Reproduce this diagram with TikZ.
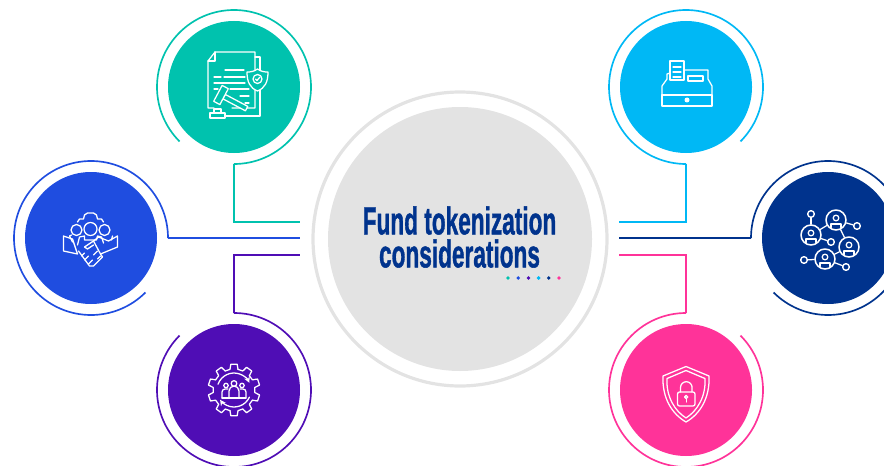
\documentclass[tikz,border=0pt]{standalone}
\usepackage{fontspec}
\setmainfont{Liberation Sans}
\newfontfamily\titlefont[FakeBold=1.4]{Liberation Sans Bold}
\definecolor{legalcol}{HTML}{00C2AE}
\definecolor{partnercol}{HTML}{1F4DE0}
\definecolor{opscol}{HTML}{4F0DB5}
\definecolor{cashcol}{HTML}{00B8F5}
\definecolor{netcol}{HTML}{00338D}
\definecolor{securecol}{HTML}{FF3399}
\definecolor{hubgrey}{HTML}{E3E3E3}
\tikzset{
	hub/.style={circle,inner sep=0pt,minimum size=99pt},
	ring/.style={line width=1.25pt},
	wire/.style={line width=1.35pt},
	glyph/.style={draw=white,line width=0.95pt,line join=round,line cap=round},
	peer/.style={circle,draw=white,line width=1.15pt,inner sep=0pt,minimum size=15pt},
	tip/.style={circle,draw=white,line width=1.05pt,inner sep=0pt,minimum size=5pt}
}
\begin{document}
\begin{tikzpicture}[x=0.75pt,y=0.75pt]
	\useasboundingbox (0,0) rectangle (884,465);
	
	% middle
	\node[circle,draw=hubgrey,line width=2.4pt,inner sep=0pt,minimum size=220.5pt] (outer) at (460,226) {};
	\node[hub,fill=hubgrey,minimum size=198pt] (fund) at (460,226) {};
	\node[font=\titlefont\fontsize{29}{24.75}\selectfont,text=netcol,align=center,xscale=0.585] (title) at (459.5,228) {Fund tokenization\\considerations};
	\foreach \dotcol [count=\i from 0] in {legalcol,partnercol,opscol,cashcol,netcol,securecol}
		\fill[\dotcol] (508+10.2*\i,187) circle (1.9);
	
	% hubs
	\node[hub,fill=legalcol] (legal) at (234,378) {};
	\node[hub,fill=partnercol] (partner) at (91,227) {};
	\node[hub,fill=opscol] (ops) at (234,75) {};
	\node[hub,fill=cashcol] (cash) at (686,378) {};
	\node[hub,fill=netcol] (net) at (828,227) {};
	\node[hub,fill=securecol] (secure) at (686,75) {};
	
	% ends of the wires
	\coordinate (legaltail) at (234,301);
	\coordinate (legalend) at (300,243);
	\coordinate (partnertail) at (168,227);
	\coordinate (partnerend) at (300,227);
	\coordinate (opstail) at (234,152);
	\coordinate (opsend) at (300,210);
	\coordinate (cashtail) at (686,301);
	\coordinate (cashend) at (619,243);
	\coordinate (nettail) at (751,227);
	\coordinate (netend) at (619,227);
	\coordinate (securetail) at (686,152);
	\coordinate (secureend) at (619,210);
	
	% rings
	\draw[ring,legalcol] (legaltail) arc[start angle=-90,end angle=225,radius=77];
	\draw[ring,partnercol] (partnertail) arc[start angle=0,end angle=315,radius=77];
	\draw[ring,opscol] (opstail) arc[start angle=90,end angle=-225,radius=77];
	\draw[ring,cashcol] (cashtail) arc[start angle=-90,end angle=-405,radius=77];
	\draw[ring,netcol] (nettail) arc[start angle=180,end angle=-135,radius=77];
	\draw[ring,securecol] (securetail) arc[start angle=90,end angle=405,radius=77];
	
	% wires
	\draw[wire,legalcol] (legaltail) |- (legalend);
	\draw[wire,partnercol] (partnertail) -- (partnerend);
	\draw[wire,opscol] (opstail) |- (opsend);
	\draw[wire,cashcol] (cashtail) |- (cashend);
	\draw[wire,netcol] (nettail) -- (netend);
	\draw[wire,securecol] (securetail) |- (secureend);
	
	% document, shield and gavel
	\begin{scope}[shift={(234,378)},glyph]
		\draw (-2,-21) -- (21,-21) -- (21,35) -- (-19,35) -- (-26,26) -- (-26,-21) -- (-20,-21);
		\draw (-26,26) -- (-19,26) -- (-19,35);
		\draw (21,30) -- (26,30) -- (26,-29) -- (-9,-29);
		\draw (-9,17) -- (10,17);
		\draw (-20,10) -- (-13,10) (-10,10) -- (11,10);
		\draw (-20,4) -- (11,4);
		\draw (-20,-2) -- (-16,-2) (-4,-2) -- (15,-2);
		\draw (6,-9) -- (15,-9);
		\draw (11,-16) -- (15,-16);
		\draw[fill=legalcol] (23.5,18) .. controls (27,15.5) and (30,15) .. (34,15) .. controls (34,5) and (31,-1) .. (23.5,-4) .. controls (16,-1) and (13,5) .. (13,15) .. controls (17,15) and (20,15.5) .. (23.5,18) -- cycle;
		\draw (23.5,8) circle (4.5);
		\draw (21.5,8) -- (23,6.5) -- (25.8,9.8);
		\begin{scope}[shift={(-13,-8)},rotate=-28]
			\draw[fill=legalcol] (3.5,-2.5) rectangle (29,2.5);
			\draw[fill=legalcol] (-3.5,-9) rectangle (3.5,9);
		\end{scope}
		\draw[fill=legalcol] (-20,-22) -- (-13,-22) -- (-13,-26) -- (-20,-26) -- cycle;
		\draw[fill=legalcol] (-24,-26) rectangle (-9,-31);
	\end{scope}
	
	% people and handshake
	\begin{scope}[shift={(90.5,226)},glyph]
		\draw (-13,17) -- (-11,20) -- (-7,20) -- (-6,24) -- (-3,26) -- (3,26) -- (6,24) -- (7,20) -- (11,20) -- (13,17);
		\draw (-14,9) circle (5.5);
		\draw (14,9) circle (5.5);
		\draw[fill=partnercol] (0,10) circle (6.5);
		\draw (-18,-3) -- (-21,3) -- (-19,4);
		\draw (21,-1) -- (22,3);
		\draw[fill=partnercol] (-13,-6) -- (-11,2) -- (-6,3) -- (-6,-1) -- (6,-1) -- (7,3) -- (11,2) -- (13,-4);
		\draw (-27,3) -- (-18,0) -- (-13,-15) -- (-27,-12) -- cycle;
		\draw (27,3) -- (27,-8) -- (10,-15) -- (3,-2) -- (8,2) -- (18,-2) -- cycle;
		\draw (-12,-12) -- (-1,-27) -- (3,-27) -- (12,-18) -- (10,-15);
		\draw (3,-2) -- (-6,-8) -- (-3,-10) -- (3,-6);
		\draw (-9,-17) -- (-6,-14) (-6,-21) -- (-2,-17) (-2,-25) -- (2,-21);
		\draw (3,-16) -- (7,-12) (7,-20) -- (10,-17);
	\end{scope}
	
	% gear and team
	\begin{scope}[shift={(234,75)},glyph]
		\foreach \a in {90,126,...,414}
			\draw (\a-11:21) -- (\a-7:26) -- (\a+7:26) -- (\a+11:21) arc[start angle=\a+11,end angle=\a+25,radius=21];
		\draw[->,>=stealth] (160:17) arc[start angle=160,end angle=25,radius=17];
		\draw[->,>=stealth] (-25:17) arc[start angle=-25,end angle=-145,radius=17];
		\draw (-12,-8) -- (12,-8);
		\draw (-12,-8) -- (-12,-2) arc[start angle=180,end angle=90,radius=3] -- (-6,1);
		\draw (12,-8) -- (12,-2) arc[start angle=0,end angle=90,radius=3] -- (6,1);
		\draw (-5,-8) -- (-5,-1) arc[start angle=180,end angle=0,radius=5] -- (5,-8);
		\draw (0,6.5) circle (2.8);
		\draw (-8,4.5) circle (2.2);
		\draw (8,4.5) circle (2.2);
	\end{scope}
	
	% cash register
	\begin{scope}[shift={(686,378)},glyph]
		\draw (-24,-8) rectangle (26,-19);
		\draw (-24,-8) -- (-24,1) -- (-19,8) -- (-19,13) -- (-16,14);
		\draw (26,-8) -- (26,1) -- (22,8) -- (22,17) -- (-2,17);
		\draw (-16,7) -- (-16,26) -- (-2,26) -- (-2,7) -- cycle;
		\draw (-13,20) -- (-5,20) (-13,15) -- (-5,15) (-13,10) -- (-5,10);
		\draw (2,11) rectangle (17,6);
		\fill[white] (1,-13) circle (2.5);
	\end{scope}
	
	% network of people
	\begin{scope}[shift={(828,226)},glyph]
		\node[peer] (pa) at (8,19) {};
		\node[peer] (pb) at (-17,4) {};
		\node[peer] (pc) at (21,-8) {};
		\node[peer] (pd) at (-3,-20) {};
		\node[tip] (ta) at (-17,25) {};
		\node[tip] (tb) at (29,13) {};
		\node[tip] (tc) at (3,-3) {};
		\node[tip] (td) at (-24,-21) {};
		\node[tip] (te) at (18,-28) {};
		\draw (pa) -- (pb);
		\draw (pa) -- (pc);
		\draw (pc) -- (pd);
		\draw (pb) -- (ta);
		\draw (pa) -- (tb);
		\draw (pb) -- (tc);
		\draw (pd) -- (td);
		\draw (pd) -- (te);
		\foreach \px/\py in {8/19,-17/4,21/-8,-3/-20} {
			\draw (\px,\py+2) circle (2.8);
			\draw (\px-5,\py-7.5) -- (\px-5,\py-4) -- (\px+5,\py-4) -- (\px+5,\py-7.5);
		}
	\end{scope}
	
	% shield and lock
	\begin{scope}[shift={(686,75)},glyph]
		\draw (0,23.5) -- (-23,14) .. controls (-24,-8) and (-14,-24) .. (0,-32) .. controls (14,-24) and (24,-8) .. (23,14) -- cycle;
		\draw (0,19.5) -- (-19,11.5) .. controls (-20,-7) and (-11,-21) .. (0,-28) .. controls (11,-21) and (20,-7) .. (19,11.5) -- cycle;
		\draw[rounded corners=1.5] (-8.5,-2) rectangle (9,-16);
		\draw (-5.5,-2) -- (-5.5,2.5) arc[start angle=180,end angle=0,radius=5.8] -- (6,-2);
		\draw (0.2,-7) circle (1.6);
		\draw (0.2,-8.6) -- (0.2,-12);
	\end{scope}
\end{tikzpicture}
\end{document}
